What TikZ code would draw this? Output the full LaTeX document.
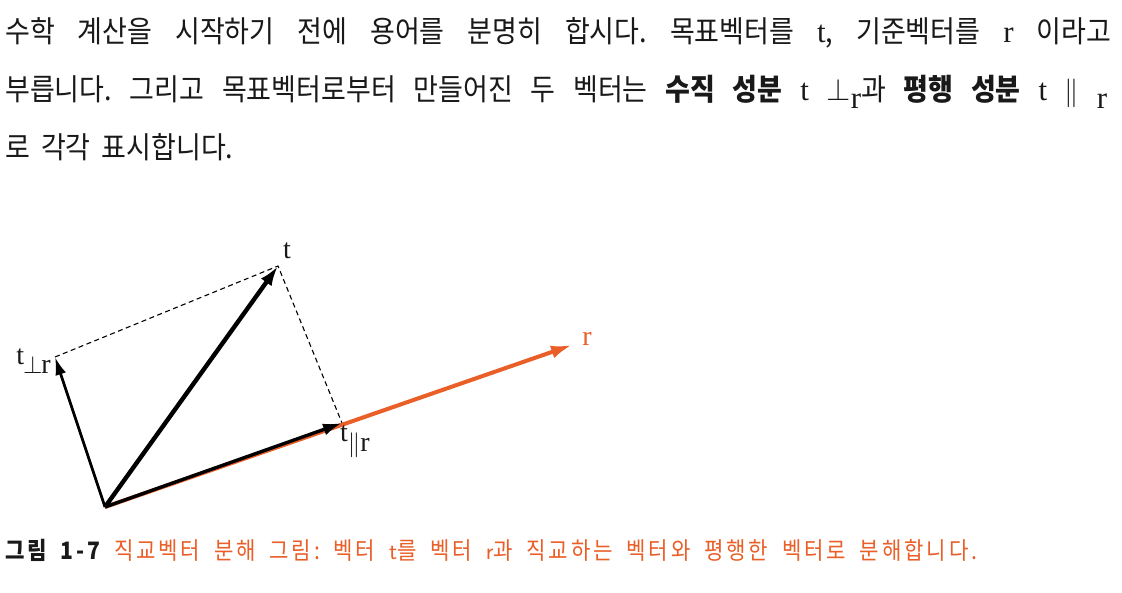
\documentclass[tikz,border=0pt]{standalone}
\usepackage{fontspec}
\setmainfont{Liberation Serif}
\newfontfamily\kr[FakeStretch=0.9]{Noto Sans CJK KR}
\newfontfamily\krcap[FakeStretch=0.88,LetterSpace=12]{Noto Sans CJK KR}
\usetikzlibrary{arrows.meta}
\definecolor{rorange}{RGB}{234,94,40}
\definecolor{ink}{RGB}{25,25,25}
\newcommand{\lat}[1]{{\rmfamily\fontsize{31}{34}\selectfont #1}}
\newcommand{\wsp}{\spaceskip=11pt plus 12pt minus 3pt\relax}
\tikzset{
  bodyline/.style={anchor=base west, inner sep=0pt, text=ink, font=\kr\fontsize{30}{34}\selectfont\frenchspacing\wsp},
  caption/.style={anchor=base west, inner sep=0pt, font=\krcap\fontsize{24}{26}\selectfont\frenchspacing},
  lbl/.style={inner sep=0pt, text=ink, font=\rmfamily\fontsize{28}{30}\selectfont},
  vecbig/.style={line width=4.4pt, draw=black, -{Latex[length=20pt,width=13pt]}},
  vecmid/.style={line width=3.4pt, draw=black, -{Latex[length=19pt,width=12pt]}},
  vecthin/.style={line width=2.8pt, draw=black, -{Latex[length=18pt,width=11pt]}},
  vecref/.style={line width=4pt, draw=rorange, -{Latex[length=21pt,width=13pt]}},
  helper/.style={line width=1.1pt, draw=black, dash pattern=on 5pt off 3.5pt},
}
\begin{document}
\begin{tikzpicture}[x=1pt,y=-1pt]
\fill[white] (0,0) rectangle (1122,592);
\useasboundingbox (0,0) rectangle (1122,592);

% paragraph
\node[bodyline] (l1) at (5,42) {\makebox[1106pt][s]{수학 계산을 시작하기 전에 용어를 분명히 합시다. 목표벡터를 \lat{t}, 기준벡터를 \lat{r} 이라고}};
\node[bodyline] (l2) at (5,100) {\makebox[1102pt][s]{부릅니다. 그리고 목표벡터로부터 만들어진 두 벡터는 {\bfseries 수직 성분} \lat{t \scalebox{1.25}{$\perp$}\raisebox{-8pt}{r}}과 {\bfseries 평행 성분} \lat{t \scalebox{1.15}{$\|$} \raisebox{-8pt}{r}}}};
\node[bodyline] (l3) at (5,158) {로 각각 표시합니다.};

% figure
\coordinate (O) at (105,507);
\coordinate (T) at (278,266);
\coordinate (P) at (55,357);
\coordinate (Q) at (342,423);
\coordinate (R) at (572,345);

\draw[helper] (P) -- (T) -- (Q);
\draw[vecref] (O) -- (R);
\draw[vecmid] (O) -- (Q);
\draw[vecthin] (O) -- (P);
\draw[vecbig] (O) -- (T);

\node[lbl] (lt) at (287,251) {t};
\node[lbl, anchor=east] (lperp) at (51,361) {t\kern-1pt\raisebox{-9pt}{$\perp$\kern-1pt r}};
\node[lbl, anchor=west] (lpar) at (340,442) {t\raisebox{-10pt}{$\|$r}};
\node[lbl, text=rorange] (lr) at (587,339) {r};

% caption
\node[caption] (cap) at (5,559) {\makebox[972pt][s]{\textcolor{ink}{\bfseries 그림 1-7} \textcolor{rorange}{직교벡터 분해 그림: 벡터 {\sffamily t}를 벡터 {\sffamily r}과 직교하는 벡터와 평행한 벡터로 분해합니다.}}};
\end{tikzpicture}
\end{document}
